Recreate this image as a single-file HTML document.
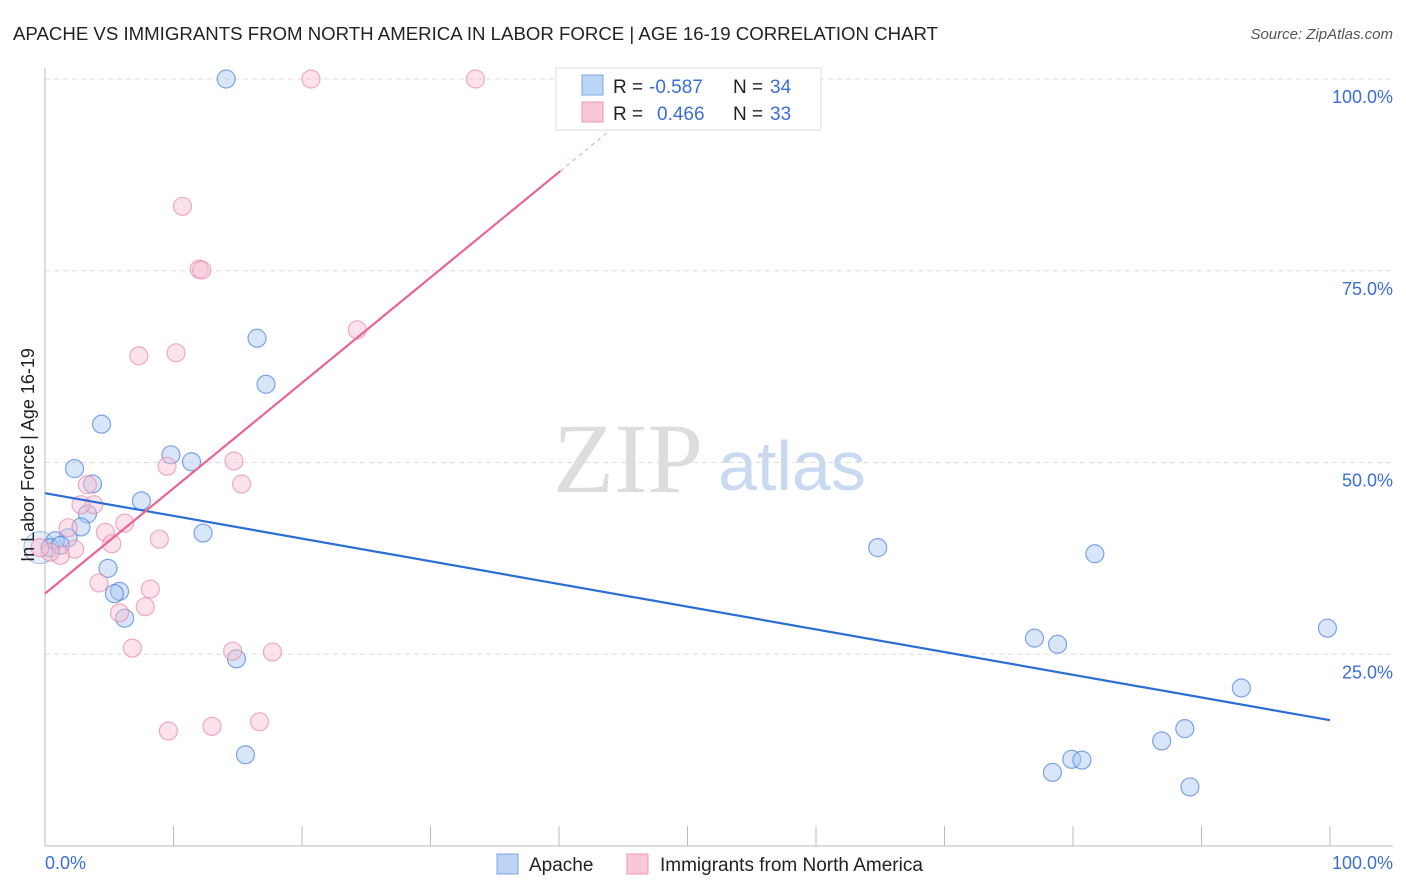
<!DOCTYPE html>
<html><head><meta charset="utf-8"><style>
body{margin:0;background:#fff;font-family:"Liberation Sans",sans-serif}
svg{display:block}
</style></head><body>
<svg id="c" width="1406" height="892" xmlns="http://www.w3.org/2000/svg">
<text x="13" y="40" font-size="18" fill="#222" textLength="925" lengthAdjust="spacingAndGlyphs">APACHE VS IMMIGRANTS FROM NORTH AMERICA IN LABOR FORCE | AGE 16-19 CORRELATION CHART</text>
<text x="1393" y="39" font-size="15" fill="#555" font-style="italic" text-anchor="end">Source: ZipAtlas.com</text>
<g>
<text x="553" y="492" font-family="Liberation Serif,serif" font-size="100" fill="#ddd">ZIP</text>
<text x="718" y="490" font-size="70" fill="#c9d9f2">atlas</text>
</g>
<g id="grid"></g>
<g id="marks"></g>
<text transform="translate(34,455) rotate(-90)" font-size="18" fill="#222" text-anchor="middle">In Labor Force | Age 16-19</text>
<text x="45" y="869" font-size="18" fill="#3b6fd4">0.0%</text>
<text x="1393" y="869" font-size="18" fill="#3b6fd4" text-anchor="end">100.0%</text>
<g>
<rect x="556" y="68" width="265" height="62" fill="#fff" stroke="#ddd"/>
<rect x="582" y="75" width="21" height="20" fill="#bcd5f7" stroke="#7ba4e0"/>
<rect x="582" y="102" width="21" height="20" fill="#f9c8d6" stroke="#eb98b2"/>
<text x="613" y="93" font-size="19" fill="#222">R = </text><text x="649" y="93" font-size="19" fill="#3b6fd4">-0.587</text>
<text x="733" y="93" font-size="19" fill="#222">N = </text><text x="770" y="93" font-size="19" fill="#3b6fd4">34</text>
<text x="613" y="120" font-size="19" fill="#222">R = </text><text x="657" y="120" font-size="19" fill="#3b6fd4">0.466</text>
<text x="733" y="120" font-size="19" fill="#222">N = </text><text x="770" y="120" font-size="19" fill="#3b6fd4">33</text>
</g>
<g>
<rect x="497" y="854" width="21" height="20" fill="#bcd5f7" stroke="#7ba4e0"/>
<text x="529" y="871" font-size="19" fill="#222">Apache</text>
<rect x="627" y="854" width="21" height="20" fill="#f9c8d6" stroke="#eb98b2"/>
<text x="660" y="871" font-size="19" fill="#222">Immigrants from North America</text>
</g>
</svg>
<script>
const yTicks=[25,50,75,100];
const yTickLabels=["25.0%","50.0%","75.0%","100.0%"];
const xTicks=[0,10,20,30,40,50,60,70,80,90,100];
const apacheX=[14.1,16.5,17.2,4.4,2.3,9.8,11.4,3.7,7.5,3.3,2.8,12.3,1.8,0.8,0.4,1.2,4.9,5.8,5.4,6.2,14.9,15.6,64.8,81.7,77.0,78.8,99.8,93.1,88.7,86.9,79.9,80.7,78.4,89.1];
const apacheY=[100,66.2,60.2,55.0,49.2,51.0,50.1,47.2,45.0,43.3,41.6,40.8,40.2,39.8,38.9,39.2,36.2,33.2,32.9,29.7,24.4,11.9,38.9,38.1,27.1,26.3,28.4,20.6,15.3,13.7,11.3,11.2,9.6,7.7];
const immX=[20.7,33.5,10.7,12.0,12.2,24.3,7.3,10.2,9.5,14.7,15.3,3.3,3.8,2.8,1.8,6.2,4.7,5.2,8.9,2.3,1.2,0.4,4.2,8.2,5.8,7.8,6.8,14.6,17.7,9.6,13.0,16.7,-0.4];
const immY=[100,100,83.4,75.2,75.1,67.3,63.9,64.3,49.5,50.2,47.2,47.1,44.5,44.5,41.5,42.1,40.9,39.4,40.0,38.7,37.9,38.3,34.3,33.5,30.4,31.2,25.8,25.4,25.3,15.0,15.6,16.2,38.9];
const apacheTrend=[46.0,16.4];
const immTrend=[32.9,1.374];
const X0=45,X1=1330,Y0=846,Y100=79;
const sx=v=>X0+(X1-X0)*v/100, sy=v=>Y0-(Y0-Y100)*v/100;
const NS="http://www.w3.org/2000/svg";
function mk(t,a,p){const e=document.createElementNS(NS,t);for(const k in a)e.setAttribute(k,a[k]);p.appendChild(e);return e;}
const g=document.getElementById('grid'),m=document.getElementById('marks');
yTicks.forEach((v,i)=>{
 const l=mk('line',{x1:45,x2:1393,y1:sy(v),y2:sy(v),stroke:'#ddd','stroke-dasharray':'5,4'},g);
 
 
 const t=mk('text',{x:1393,y:sy(v)+24,'font-size':18,fill:'#3b6fd4','text-anchor':'end'},g);
 t.textContent=yTickLabels[i];
 
 
});
const gl=mk('line',{x1:45,x2:1393,y1:Y100,y2:Y100,stroke:'#ddd','stroke-dasharray':'5,4'},g);
mk('line',{x1:45,x2:45,y1:68,y2:846,stroke:'#bbb'},g);
mk('line',{x1:45,x2:1393,y1:846,y2:846,stroke:'#bbb'},g);
xTicks.forEach(v=>{
 const l=mk('line',{x1:sx(v),x2:sx(v),y1:826,y2:846,stroke:'#bbb'},g);
 
 
});
mk('circle',{cx:sx(-0.4),cy:sy(38.9),r:16,fill:'rgba(190,210,245,0.35)',stroke:'rgba(70,130,220,0.5)'},m);
apacheX.forEach((x,i)=>{
 const c=mk('circle',{cx:sx(x),cy:sy(apacheY[i]),r:9,fill:'rgba(170,200,245,0.45)',stroke:'rgba(60,120,220,0.65)','stroke-width':1.2},m);
 
 
});
immX.forEach((x,i)=>{
 const c=mk('circle',{cx:sx(x),cy:sy(immY[i]),r:9,fill:'rgba(248,190,208,0.45)',stroke:'rgba(230,130,165,0.65)','stroke-width':1.2},m);
 
 
});
const bl=mk('line',{x1:sx(0),y1:sy(apacheTrend[0]),x2:sx(100),y2:sy(apacheTrend[1]),stroke:'#2a6fd6','stroke-width':2.2},m);


const pl=mk('line',{x1:sx(0),y1:sy(immTrend[0]),x2:sx(40.1),y2:sy(immTrend[0]+immTrend[1]*40.1),stroke:'#e8658e','stroke-width':2.2},m);


const pd=mk('line',{x1:sx(40.1),y1:sy(immTrend[0]+immTrend[1]*40.1),x2:sx(45),y2:sy(immTrend[0]+immTrend[1]*45),stroke:'#eba0b8','stroke-width':1,'stroke-dasharray':'4,4'},m);


</script>
</body></html>
